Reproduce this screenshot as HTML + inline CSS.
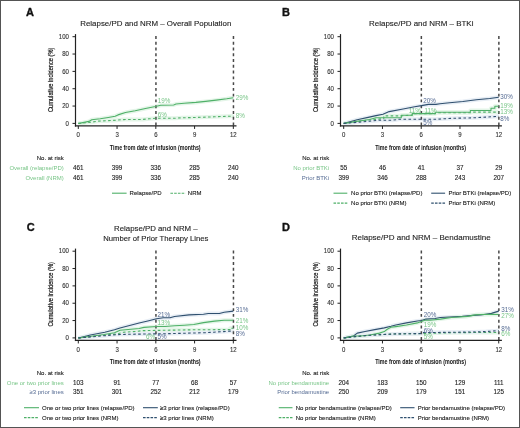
<!DOCTYPE html>
<html><head><meta charset="utf-8"><style>
html,body{margin:0;padding:0;background:#fff;}
svg{display:block;font-family:"Liberation Sans", sans-serif;will-change:transform;}
</style></head><body>
<svg width="520" height="428" viewBox="0 0 520 428">
<rect x="0" y="0" width="520" height="428" fill="#fff"/>
<text x="26.00" y="15.80" font-size="11" text-anchor="start" fill="#111" font-weight="bold" stroke="#111" stroke-width="0.35">A</text>
<text x="155.82" y="25.90" font-size="8" text-anchor="middle" fill="#1e1e1e" font-weight="normal" textLength="151.1" lengthAdjust="spacingAndGlyphs" stroke="#1e1e1e" stroke-width="0.12">Relapse/PD and NRM – Overall Population</text>
<polyline points="78.30,123.40 79.20,123.40 88.89,121.41 91.74,119.76 100.26,118.72 108.27,117.42 115.12,116.20 117.96,114.90 125.46,112.56 135.15,110.83 145.48,108.49 155.43,106.49 160.73,105.28 173.65,104.93 175.98,104.07 184.11,103.29 195.87,102.42 205.56,101.38 216.16,100.16 226.75,98.78 233.34,97.74" fill="none" stroke="#e4f5e8" stroke-width="4.0" stroke-linejoin="round"/>
<polyline points="78.30,123.40 79.20,123.40 88.89,122.36 91.22,122.19 97.03,121.23 108.27,120.63 116.41,120.19 123.52,119.59 142.90,119.41 149.36,118.80 155.82,118.28 175.20,118.28 181.66,117.76 194.58,117.50 213.96,116.81 233.34,116.12" fill="none" stroke="#e4f5e8" stroke-width="4.0" stroke-linejoin="round"/>
<line x1="155.94" y1="36.00" x2="155.94" y2="125.45" stroke="#484848" stroke-width="1.5" stroke-dasharray="2.9 2.87"/>
<line x1="233.46" y1="36.00" x2="233.46" y2="125.45" stroke="#484848" stroke-width="1.5" stroke-dasharray="2.9 2.87"/>
<polyline points="78.30,123.40 79.20,123.40 88.89,121.41 91.74,119.76 100.26,118.72 108.27,117.42 115.12,116.20 117.96,114.90 125.46,112.56 135.15,110.83 145.48,108.49 155.43,106.49 160.73,105.28 173.65,104.93 175.98,104.07 184.11,103.29 195.87,102.42 205.56,101.38 216.16,100.16 226.75,98.78 233.34,97.74" fill="none" stroke="#4fb068" stroke-width="1.1" stroke-linejoin="round"/>
<polyline points="78.30,123.40 79.20,123.40 88.89,122.36 91.22,122.19 97.03,121.23 108.27,120.63 116.41,120.19 123.52,119.59 142.90,119.41 149.36,118.80 155.82,118.28 175.20,118.28 181.66,117.76 194.58,117.50 213.96,116.81 233.34,116.12" fill="none" stroke="#4fb068" stroke-width="1.1" stroke-dasharray="2.6 2.4" stroke-linejoin="round"/>
<line x1="75.50" y1="34.10" x2="75.50" y2="126.55" stroke="#222" stroke-width="1.2"/>
<line x1="74.90" y1="125.95" x2="236.50" y2="125.95" stroke="#222" stroke-width="1.2"/>
<line x1="72.50" y1="123.40" x2="75.50" y2="123.40" stroke="#222" stroke-width="1"/>
<text x="68.90" y="125.55" font-size="6.5" text-anchor="end" fill="#333" font-weight="normal" textLength="3.36" lengthAdjust="spacingAndGlyphs" stroke="#333" stroke-width="0.12">0</text>
<line x1="72.50" y1="106.06" x2="75.50" y2="106.06" stroke="#222" stroke-width="1"/>
<text x="68.90" y="108.21" font-size="6.5" text-anchor="end" fill="#333" font-weight="normal" textLength="6.72" lengthAdjust="spacingAndGlyphs" stroke="#333" stroke-width="0.12">20</text>
<line x1="72.50" y1="88.72" x2="75.50" y2="88.72" stroke="#222" stroke-width="1"/>
<text x="68.90" y="90.87" font-size="6.5" text-anchor="end" fill="#333" font-weight="normal" textLength="6.72" lengthAdjust="spacingAndGlyphs" stroke="#333" stroke-width="0.12">40</text>
<line x1="72.50" y1="71.38" x2="75.50" y2="71.38" stroke="#222" stroke-width="1"/>
<text x="68.90" y="73.53" font-size="6.5" text-anchor="end" fill="#333" font-weight="normal" textLength="6.72" lengthAdjust="spacingAndGlyphs" stroke="#333" stroke-width="0.12">60</text>
<line x1="72.50" y1="54.04" x2="75.50" y2="54.04" stroke="#222" stroke-width="1"/>
<text x="68.90" y="56.19" font-size="6.5" text-anchor="end" fill="#333" font-weight="normal" textLength="6.72" lengthAdjust="spacingAndGlyphs" stroke="#333" stroke-width="0.12">80</text>
<line x1="72.50" y1="36.70" x2="75.50" y2="36.70" stroke="#222" stroke-width="1"/>
<text x="68.90" y="38.85" font-size="6.5" text-anchor="end" fill="#333" font-weight="normal" textLength="10.08" lengthAdjust="spacingAndGlyphs" stroke="#333" stroke-width="0.12">100</text>
<line x1="78.30" y1="125.95" x2="78.30" y2="128.95" stroke="#222" stroke-width="1"/>
<text x="78.30" y="137.10" font-size="6.5" text-anchor="middle" fill="#333" font-weight="normal" textLength="3.36" lengthAdjust="spacingAndGlyphs" stroke="#333" stroke-width="0.12">0</text>
<line x1="117.06" y1="125.95" x2="117.06" y2="128.95" stroke="#222" stroke-width="1"/>
<text x="117.06" y="137.10" font-size="6.5" text-anchor="middle" fill="#333" font-weight="normal" textLength="3.36" lengthAdjust="spacingAndGlyphs" stroke="#333" stroke-width="0.12">3</text>
<line x1="155.82" y1="125.95" x2="155.82" y2="128.95" stroke="#222" stroke-width="1"/>
<text x="155.82" y="137.10" font-size="6.5" text-anchor="middle" fill="#333" font-weight="normal" textLength="3.36" lengthAdjust="spacingAndGlyphs" stroke="#333" stroke-width="0.12">6</text>
<line x1="194.58" y1="125.95" x2="194.58" y2="128.95" stroke="#222" stroke-width="1"/>
<text x="194.58" y="137.10" font-size="6.5" text-anchor="middle" fill="#333" font-weight="normal" textLength="3.36" lengthAdjust="spacingAndGlyphs" stroke="#333" stroke-width="0.12">9</text>
<line x1="233.34" y1="125.95" x2="233.34" y2="128.95" stroke="#222" stroke-width="1"/>
<text x="233.34" y="137.10" font-size="6.5" text-anchor="middle" fill="#333" font-weight="normal" textLength="6.72" lengthAdjust="spacingAndGlyphs" stroke="#333" stroke-width="0.12">12</text>
<text x="155.22" y="149.50" font-size="7.6" text-anchor="middle" fill="#111" font-weight="bold" textLength="90.8" lengthAdjust="spacingAndGlyphs">Time from date of infusion (months)</text>
<text transform="translate(52.90,79.80) rotate(-90)" x="0" y="0" font-size="7.4" text-anchor="middle" fill="#1a1a1a" stroke="#1a1a1a" stroke-width="0.22" textLength="64.5" lengthAdjust="spacingAndGlyphs">Cumulative incidence (%)</text>
<text x="63.80" y="160.10" font-size="6" text-anchor="end" fill="#222" font-weight="normal" stroke="#222" stroke-width="0.12">No. at risk</text>
<text x="63.80" y="170.15" font-size="6" text-anchor="end" fill="#78c587" font-weight="normal">Overall (relapse/PD)</text>
<text x="78.30" y="170.15" font-size="6.5" text-anchor="middle" fill="#222" font-weight="normal" textLength="10.52" lengthAdjust="spacingAndGlyphs" stroke="#222" stroke-width="0.12">461</text>
<text x="117.06" y="170.15" font-size="6.5" text-anchor="middle" fill="#222" font-weight="normal" textLength="10.52" lengthAdjust="spacingAndGlyphs" stroke="#222" stroke-width="0.12">399</text>
<text x="155.82" y="170.15" font-size="6.5" text-anchor="middle" fill="#222" font-weight="normal" textLength="10.52" lengthAdjust="spacingAndGlyphs" stroke="#222" stroke-width="0.12">336</text>
<text x="194.58" y="170.15" font-size="6.5" text-anchor="middle" fill="#222" font-weight="normal" textLength="10.52" lengthAdjust="spacingAndGlyphs" stroke="#222" stroke-width="0.12">285</text>
<text x="233.34" y="170.15" font-size="6.5" text-anchor="middle" fill="#222" font-weight="normal" textLength="10.52" lengthAdjust="spacingAndGlyphs" stroke="#222" stroke-width="0.12">240</text>
<text x="63.80" y="179.85" font-size="6" text-anchor="end" fill="#78c587" font-weight="normal">Overall (NRM)</text>
<text x="78.30" y="179.85" font-size="6.5" text-anchor="middle" fill="#222" font-weight="normal" textLength="10.52" lengthAdjust="spacingAndGlyphs" stroke="#222" stroke-width="0.12">461</text>
<text x="117.06" y="179.85" font-size="6.5" text-anchor="middle" fill="#222" font-weight="normal" textLength="10.52" lengthAdjust="spacingAndGlyphs" stroke="#222" stroke-width="0.12">399</text>
<text x="155.82" y="179.85" font-size="6.5" text-anchor="middle" fill="#222" font-weight="normal" textLength="10.52" lengthAdjust="spacingAndGlyphs" stroke="#222" stroke-width="0.12">336</text>
<text x="194.58" y="179.85" font-size="6.5" text-anchor="middle" fill="#222" font-weight="normal" textLength="10.52" lengthAdjust="spacingAndGlyphs" stroke="#222" stroke-width="0.12">285</text>
<text x="233.34" y="179.85" font-size="6.5" text-anchor="middle" fill="#222" font-weight="normal" textLength="10.52" lengthAdjust="spacingAndGlyphs" stroke="#222" stroke-width="0.12">240</text>
<line x1="112.00" y1="193.20" x2="126.60" y2="193.20" stroke="#4fb068" stroke-width="1.1"/>
<text x="129.60" y="195.35" font-size="6" text-anchor="start" fill="#222" font-weight="normal" stroke="#222" stroke-width="0.12">Relapse/PD</text>
<line x1="170.40" y1="193.20" x2="185.50" y2="193.20" stroke="#4fb068" stroke-width="1.1" stroke-dasharray="2.6 1.15"/>
<text x="187.80" y="195.35" font-size="6" text-anchor="start" fill="#222" font-weight="normal" stroke="#222" stroke-width="0.12">NRM</text>
<text x="157.70" y="103.15" font-size="6.3" text-anchor="start" fill="#78c587" font-weight="normal">19%</text>
<text x="157.70" y="116.85" font-size="6.3" text-anchor="start" fill="#78c587" font-weight="normal">6%</text>
<text x="235.70" y="100.25" font-size="6.3" text-anchor="start" fill="#78c587" font-weight="normal">29%</text>
<text x="235.70" y="118.25" font-size="6.3" text-anchor="start" fill="#78c587" font-weight="normal">8%</text>
<text x="282.00" y="15.80" font-size="11" text-anchor="start" fill="#111" font-weight="bold" stroke="#111" stroke-width="0.35">B</text>
<text x="421.22" y="25.90" font-size="8" text-anchor="middle" fill="#1e1e1e" font-weight="normal" textLength="104.4" lengthAdjust="spacingAndGlyphs" stroke="#1e1e1e" stroke-width="0.12">Relapse/PD and NRM – BTKi</text>
<polyline points="343.70,123.40 344.35,123.40 357.14,119.76 369.28,117.16 376.00,115.60 382.98,114.21 389.18,111.61 403.13,109.01 414.63,106.67 421.48,105.63 428.46,104.41 435.95,104.41 439.95,103.81 449.51,102.77 462.82,101.46 476.39,99.82 489.70,98.43 498.74,97.22" fill="none" stroke="#e8eef5" stroke-width="4.0" stroke-linejoin="round"/>
<polyline points="343.70,123.40 344.35,123.40 356.62,121.41 369.54,119.50 376.00,117.68 401.32,117.68 401.32,115.25 412.18,115.25 412.18,113.60 435.43,113.60 435.43,112.22 470.32,112.22 470.32,110.57 490.99,110.57 490.99,108.23 494.86,108.23 494.86,106.23 498.74,106.23" fill="none" stroke="#e4f5e8" stroke-width="4.0" stroke-linejoin="round"/>
<polyline points="343.70,123.40 344.35,123.40 356.62,121.67 369.54,119.93 383.75,118.63 383.75,115.86 400.55,115.86 412.18,115.16 412.18,113.60 435.43,113.60 435.43,112.82 470.32,112.82 472.90,112.13 498.74,112.13" fill="none" stroke="#e4f5e8" stroke-width="4.0" stroke-linejoin="round"/>
<polyline points="343.70,123.40 344.35,123.40 356.62,122.36 369.54,121.23 379.88,120.19 392.80,120.19 399.26,119.24 435.43,119.24 453.52,118.28 472.90,117.85 485.82,117.16 498.74,116.29" fill="none" stroke="#e8eef5" stroke-width="4.0" stroke-linejoin="round"/>
<line x1="421.34" y1="36.00" x2="421.34" y2="125.45" stroke="#484848" stroke-width="1.5" stroke-dasharray="2.9 2.87"/>
<line x1="498.86" y1="36.00" x2="498.86" y2="125.45" stroke="#484848" stroke-width="1.5" stroke-dasharray="2.9 2.87"/>
<polyline points="343.70,123.40 344.35,123.40 357.14,119.76 369.28,117.16 376.00,115.60 382.98,114.21 389.18,111.61 403.13,109.01 414.63,106.67 421.48,105.63 428.46,104.41 435.95,104.41 439.95,103.81 449.51,102.77 462.82,101.46 476.39,99.82 489.70,98.43 498.74,97.22" fill="none" stroke="#30506f" stroke-width="1.1" stroke-linejoin="round"/>
<polyline points="343.70,123.40 344.35,123.40 356.62,121.41 369.54,119.50 376.00,117.68 401.32,117.68 401.32,115.25 412.18,115.25 412.18,113.60 435.43,113.60 435.43,112.22 470.32,112.22 470.32,110.57 490.99,110.57 490.99,108.23 494.86,108.23 494.86,106.23 498.74,106.23" fill="none" stroke="#4fb068" stroke-width="1.1" stroke-linejoin="round"/>
<polyline points="343.70,123.40 344.35,123.40 356.62,121.67 369.54,119.93 383.75,118.63 383.75,115.86 400.55,115.86 412.18,115.16 412.18,113.60 435.43,113.60 435.43,112.82 470.32,112.82 472.90,112.13 498.74,112.13" fill="none" stroke="#4fb068" stroke-width="1.1" stroke-dasharray="2.6 2.4" stroke-linejoin="round"/>
<polyline points="343.70,123.40 344.35,123.40 356.62,122.36 369.54,121.23 379.88,120.19 392.80,120.19 399.26,119.24 435.43,119.24 453.52,118.28 472.90,117.85 485.82,117.16 498.74,116.29" fill="none" stroke="#30506f" stroke-width="1.1" stroke-dasharray="2.6 2.4" stroke-linejoin="round"/>
<line x1="340.50" y1="34.10" x2="340.50" y2="126.55" stroke="#222" stroke-width="1.2"/>
<line x1="339.90" y1="125.95" x2="501.90" y2="125.95" stroke="#222" stroke-width="1.2"/>
<line x1="337.50" y1="123.40" x2="340.50" y2="123.40" stroke="#222" stroke-width="1"/>
<text x="333.90" y="125.55" font-size="6.5" text-anchor="end" fill="#333" font-weight="normal" textLength="3.36" lengthAdjust="spacingAndGlyphs" stroke="#333" stroke-width="0.12">0</text>
<line x1="337.50" y1="106.06" x2="340.50" y2="106.06" stroke="#222" stroke-width="1"/>
<text x="333.90" y="108.21" font-size="6.5" text-anchor="end" fill="#333" font-weight="normal" textLength="6.72" lengthAdjust="spacingAndGlyphs" stroke="#333" stroke-width="0.12">20</text>
<line x1="337.50" y1="88.72" x2="340.50" y2="88.72" stroke="#222" stroke-width="1"/>
<text x="333.90" y="90.87" font-size="6.5" text-anchor="end" fill="#333" font-weight="normal" textLength="6.72" lengthAdjust="spacingAndGlyphs" stroke="#333" stroke-width="0.12">40</text>
<line x1="337.50" y1="71.38" x2="340.50" y2="71.38" stroke="#222" stroke-width="1"/>
<text x="333.90" y="73.53" font-size="6.5" text-anchor="end" fill="#333" font-weight="normal" textLength="6.72" lengthAdjust="spacingAndGlyphs" stroke="#333" stroke-width="0.12">60</text>
<line x1="337.50" y1="54.04" x2="340.50" y2="54.04" stroke="#222" stroke-width="1"/>
<text x="333.90" y="56.19" font-size="6.5" text-anchor="end" fill="#333" font-weight="normal" textLength="6.72" lengthAdjust="spacingAndGlyphs" stroke="#333" stroke-width="0.12">80</text>
<line x1="337.50" y1="36.70" x2="340.50" y2="36.70" stroke="#222" stroke-width="1"/>
<text x="333.90" y="38.85" font-size="6.5" text-anchor="end" fill="#333" font-weight="normal" textLength="10.08" lengthAdjust="spacingAndGlyphs" stroke="#333" stroke-width="0.12">100</text>
<line x1="343.70" y1="125.95" x2="343.70" y2="128.95" stroke="#222" stroke-width="1"/>
<text x="343.70" y="137.10" font-size="6.5" text-anchor="middle" fill="#333" font-weight="normal" textLength="3.36" lengthAdjust="spacingAndGlyphs" stroke="#333" stroke-width="0.12">0</text>
<line x1="382.46" y1="125.95" x2="382.46" y2="128.95" stroke="#222" stroke-width="1"/>
<text x="382.46" y="137.10" font-size="6.5" text-anchor="middle" fill="#333" font-weight="normal" textLength="3.36" lengthAdjust="spacingAndGlyphs" stroke="#333" stroke-width="0.12">3</text>
<line x1="421.22" y1="125.95" x2="421.22" y2="128.95" stroke="#222" stroke-width="1"/>
<text x="421.22" y="137.10" font-size="6.5" text-anchor="middle" fill="#333" font-weight="normal" textLength="3.36" lengthAdjust="spacingAndGlyphs" stroke="#333" stroke-width="0.12">6</text>
<line x1="459.98" y1="125.95" x2="459.98" y2="128.95" stroke="#222" stroke-width="1"/>
<text x="459.98" y="137.10" font-size="6.5" text-anchor="middle" fill="#333" font-weight="normal" textLength="3.36" lengthAdjust="spacingAndGlyphs" stroke="#333" stroke-width="0.12">9</text>
<line x1="498.74" y1="125.95" x2="498.74" y2="128.95" stroke="#222" stroke-width="1"/>
<text x="498.74" y="137.10" font-size="6.5" text-anchor="middle" fill="#333" font-weight="normal" textLength="6.72" lengthAdjust="spacingAndGlyphs" stroke="#333" stroke-width="0.12">12</text>
<text x="420.62" y="149.50" font-size="7.6" text-anchor="middle" fill="#111" font-weight="bold" textLength="90.8" lengthAdjust="spacingAndGlyphs">Time from date of infusion (months)</text>
<text transform="translate(318.30,79.80) rotate(-90)" x="0" y="0" font-size="7.4" text-anchor="middle" fill="#1a1a1a" stroke="#1a1a1a" stroke-width="0.22" textLength="64.5" lengthAdjust="spacingAndGlyphs">Cumulative incidence (%)</text>
<text x="329.20" y="160.10" font-size="6" text-anchor="end" fill="#222" font-weight="normal" stroke="#222" stroke-width="0.12">No. at risk</text>
<text x="329.20" y="170.15" font-size="6" text-anchor="end" fill="#78c587" font-weight="normal">No prior BTKi</text>
<text x="343.70" y="170.15" font-size="6.5" text-anchor="middle" fill="#222" font-weight="normal" textLength="7.01" lengthAdjust="spacingAndGlyphs" stroke="#222" stroke-width="0.12">55</text>
<text x="382.46" y="170.15" font-size="6.5" text-anchor="middle" fill="#222" font-weight="normal" textLength="7.01" lengthAdjust="spacingAndGlyphs" stroke="#222" stroke-width="0.12">46</text>
<text x="421.22" y="170.15" font-size="6.5" text-anchor="middle" fill="#222" font-weight="normal" textLength="7.01" lengthAdjust="spacingAndGlyphs" stroke="#222" stroke-width="0.12">41</text>
<text x="459.98" y="170.15" font-size="6.5" text-anchor="middle" fill="#222" font-weight="normal" textLength="7.01" lengthAdjust="spacingAndGlyphs" stroke="#222" stroke-width="0.12">37</text>
<text x="498.74" y="170.15" font-size="6.5" text-anchor="middle" fill="#222" font-weight="normal" textLength="7.01" lengthAdjust="spacingAndGlyphs" stroke="#222" stroke-width="0.12">29</text>
<text x="329.20" y="179.85" font-size="6" text-anchor="end" fill="#566c94" font-weight="normal">Prior BTKi</text>
<text x="343.70" y="179.85" font-size="6.5" text-anchor="middle" fill="#222" font-weight="normal" textLength="10.52" lengthAdjust="spacingAndGlyphs" stroke="#222" stroke-width="0.12">399</text>
<text x="382.46" y="179.85" font-size="6.5" text-anchor="middle" fill="#222" font-weight="normal" textLength="10.52" lengthAdjust="spacingAndGlyphs" stroke="#222" stroke-width="0.12">346</text>
<text x="421.22" y="179.85" font-size="6.5" text-anchor="middle" fill="#222" font-weight="normal" textLength="10.52" lengthAdjust="spacingAndGlyphs" stroke="#222" stroke-width="0.12">288</text>
<text x="459.98" y="179.85" font-size="6.5" text-anchor="middle" fill="#222" font-weight="normal" textLength="10.52" lengthAdjust="spacingAndGlyphs" stroke="#222" stroke-width="0.12">243</text>
<text x="498.74" y="179.85" font-size="6.5" text-anchor="middle" fill="#222" font-weight="normal" textLength="10.52" lengthAdjust="spacingAndGlyphs" stroke="#222" stroke-width="0.12">207</text>
<line x1="333.50" y1="193.20" x2="347.30" y2="193.20" stroke="#4fb068" stroke-width="1.1"/>
<text x="351.10" y="195.35" font-size="6" text-anchor="start" fill="#222" font-weight="normal" stroke="#222" stroke-width="0.12">No prior BTKi (relapse/PD)</text>
<line x1="333.50" y1="203.10" x2="347.30" y2="203.10" stroke="#4fb068" stroke-width="1.1" stroke-dasharray="2.6 1.15"/>
<text x="351.10" y="205.25" font-size="6" text-anchor="start" fill="#222" font-weight="normal" stroke="#222" stroke-width="0.12">No prior BTKi (NRM)</text>
<line x1="431.20" y1="193.20" x2="445.10" y2="193.20" stroke="#30506f" stroke-width="1.1"/>
<text x="448.50" y="195.35" font-size="6" text-anchor="start" fill="#222" font-weight="normal" stroke="#222" stroke-width="0.12">Prior BTKi (relapse/PD)</text>
<line x1="431.20" y1="203.10" x2="445.10" y2="203.10" stroke="#30506f" stroke-width="1.1" stroke-dasharray="2.6 1.15"/>
<text x="448.50" y="205.25" font-size="6" text-anchor="start" fill="#222" font-weight="normal" stroke="#222" stroke-width="0.12">Prior BTKi (NRM)</text>
<text x="423.30" y="103.25" font-size="6.3" text-anchor="start" fill="#566c94" font-weight="normal">20%</text>
<text x="408.80" y="113.05" font-size="6.3" text-anchor="start" fill="#78c587" font-weight="normal">11%</text>
<text x="424.40" y="113.05" font-size="6.3" text-anchor="start" fill="#78c587" font-weight="normal">11%</text>
<text x="423.30" y="124.75" font-size="6.3" text-anchor="start" fill="#566c94" font-weight="normal">5%</text>
<text x="500.20" y="99.45" font-size="6.3" text-anchor="start" fill="#566c94" font-weight="normal">30%</text>
<text x="500.20" y="107.75" font-size="6.3" text-anchor="start" fill="#78c587" font-weight="normal">19%</text>
<text x="500.20" y="114.25" font-size="6.3" text-anchor="start" fill="#78c587" font-weight="normal">13%</text>
<text x="500.20" y="120.95" font-size="6.3" text-anchor="start" fill="#566c94" font-weight="normal">8%</text>
<text x="26.70" y="230.80" font-size="11" text-anchor="start" fill="#111" font-weight="bold" stroke="#111" stroke-width="0.35">C</text>
<text x="155.82" y="231.40" font-size="8" text-anchor="middle" fill="#1e1e1e" font-weight="normal" textLength="83.6" lengthAdjust="spacingAndGlyphs" stroke="#1e1e1e" stroke-width="0.12">Relapse/PD and NRM –</text>
<text x="155.82" y="241.10" font-size="8" text-anchor="middle" fill="#1e1e1e" font-weight="normal" textLength="105.1" lengthAdjust="spacingAndGlyphs" stroke="#1e1e1e" stroke-width="0.12">Number of Prior Therapy Lines</text>
<polyline points="78.30,337.90 79.33,337.90 90.44,335.04 104.79,332.18 114.48,329.84 120.03,327.93 129.59,325.50 139.15,323.07 148.84,320.73 156.47,318.74 163.31,317.79 170.03,317.79 174.55,316.49 189.02,314.92 203.49,314.23 208.28,313.54 219.39,313.54 224.17,312.32 233.34,311.11" fill="none" stroke="#e8eef5" stroke-width="4.0" stroke-linejoin="round"/>
<polyline points="78.30,337.90 79.33,337.90 91.22,336.17 104.14,334.43 114.48,332.70 120.03,330.27 139.15,328.45 143.93,327.41 156.47,326.46 164.99,326.46 174.55,325.76 184.24,325.24 193.80,324.55 203.49,322.64 214.61,321.17 224.17,320.21 233.34,320.21" fill="none" stroke="#e4f5e8" stroke-width="4.0" stroke-linejoin="round"/>
<polyline points="78.30,337.90 79.33,337.90 91.22,336.51 104.14,335.13 117.06,334.00 123.52,332.26 136.44,331.40 142.90,330.62 164.99,330.27 188.12,329.84 230.11,329.58 230.11,328.19 233.34,328.19" fill="none" stroke="#e4f5e8" stroke-width="4.0" stroke-linejoin="round"/>
<polyline points="78.30,337.90 79.33,337.90 91.22,336.86 104.14,335.73 117.06,334.61 129.98,334.26 164.99,333.74 204.92,332.70 213.96,332.18 233.34,330.96" fill="none" stroke="#e8eef5" stroke-width="4.0" stroke-linejoin="round"/>
<line x1="155.94" y1="250.50" x2="155.94" y2="339.95" stroke="#484848" stroke-width="1.5" stroke-dasharray="2.9 2.87"/>
<line x1="233.46" y1="250.50" x2="233.46" y2="339.95" stroke="#484848" stroke-width="1.5" stroke-dasharray="2.9 2.87"/>
<polyline points="78.30,337.90 79.33,337.90 90.44,335.04 104.79,332.18 114.48,329.84 120.03,327.93 129.59,325.50 139.15,323.07 148.84,320.73 156.47,318.74 163.31,317.79 170.03,317.79 174.55,316.49 189.02,314.92 203.49,314.23 208.28,313.54 219.39,313.54 224.17,312.32 233.34,311.11" fill="none" stroke="#30506f" stroke-width="1.1" stroke-linejoin="round"/>
<polyline points="78.30,337.90 79.33,337.90 91.22,336.17 104.14,334.43 114.48,332.70 120.03,330.27 139.15,328.45 143.93,327.41 156.47,326.46 164.99,326.46 174.55,325.76 184.24,325.24 193.80,324.55 203.49,322.64 214.61,321.17 224.17,320.21 233.34,320.21" fill="none" stroke="#4fb068" stroke-width="1.1" stroke-linejoin="round"/>
<polyline points="78.30,337.90 79.33,337.90 91.22,336.51 104.14,335.13 117.06,334.00 123.52,332.26 136.44,331.40 142.90,330.62 164.99,330.27 188.12,329.84 230.11,329.58 230.11,328.19 233.34,328.19" fill="none" stroke="#4fb068" stroke-width="1.1" stroke-dasharray="2.6 2.4" stroke-linejoin="round"/>
<polyline points="78.30,337.90 79.33,337.90 91.22,336.86 104.14,335.73 117.06,334.61 129.98,334.26 164.99,333.74 204.92,332.70 213.96,332.18 233.34,330.96" fill="none" stroke="#30506f" stroke-width="1.1" stroke-dasharray="2.6 2.4" stroke-linejoin="round"/>
<line x1="75.50" y1="248.60" x2="75.50" y2="341.05" stroke="#222" stroke-width="1.2"/>
<line x1="74.90" y1="340.45" x2="236.50" y2="340.45" stroke="#222" stroke-width="1.2"/>
<line x1="72.50" y1="337.90" x2="75.50" y2="337.90" stroke="#222" stroke-width="1"/>
<text x="68.90" y="340.05" font-size="6.5" text-anchor="end" fill="#333" font-weight="normal" textLength="3.36" lengthAdjust="spacingAndGlyphs" stroke="#333" stroke-width="0.12">0</text>
<line x1="72.50" y1="320.56" x2="75.50" y2="320.56" stroke="#222" stroke-width="1"/>
<text x="68.90" y="322.71" font-size="6.5" text-anchor="end" fill="#333" font-weight="normal" textLength="6.72" lengthAdjust="spacingAndGlyphs" stroke="#333" stroke-width="0.12">20</text>
<line x1="72.50" y1="303.22" x2="75.50" y2="303.22" stroke="#222" stroke-width="1"/>
<text x="68.90" y="305.37" font-size="6.5" text-anchor="end" fill="#333" font-weight="normal" textLength="6.72" lengthAdjust="spacingAndGlyphs" stroke="#333" stroke-width="0.12">40</text>
<line x1="72.50" y1="285.88" x2="75.50" y2="285.88" stroke="#222" stroke-width="1"/>
<text x="68.90" y="288.03" font-size="6.5" text-anchor="end" fill="#333" font-weight="normal" textLength="6.72" lengthAdjust="spacingAndGlyphs" stroke="#333" stroke-width="0.12">60</text>
<line x1="72.50" y1="268.54" x2="75.50" y2="268.54" stroke="#222" stroke-width="1"/>
<text x="68.90" y="270.69" font-size="6.5" text-anchor="end" fill="#333" font-weight="normal" textLength="6.72" lengthAdjust="spacingAndGlyphs" stroke="#333" stroke-width="0.12">80</text>
<line x1="72.50" y1="251.20" x2="75.50" y2="251.20" stroke="#222" stroke-width="1"/>
<text x="68.90" y="253.35" font-size="6.5" text-anchor="end" fill="#333" font-weight="normal" textLength="10.08" lengthAdjust="spacingAndGlyphs" stroke="#333" stroke-width="0.12">100</text>
<line x1="78.30" y1="340.45" x2="78.30" y2="343.45" stroke="#222" stroke-width="1"/>
<text x="78.30" y="351.60" font-size="6.5" text-anchor="middle" fill="#333" font-weight="normal" textLength="3.36" lengthAdjust="spacingAndGlyphs" stroke="#333" stroke-width="0.12">0</text>
<line x1="117.06" y1="340.45" x2="117.06" y2="343.45" stroke="#222" stroke-width="1"/>
<text x="117.06" y="351.60" font-size="6.5" text-anchor="middle" fill="#333" font-weight="normal" textLength="3.36" lengthAdjust="spacingAndGlyphs" stroke="#333" stroke-width="0.12">3</text>
<line x1="155.82" y1="340.45" x2="155.82" y2="343.45" stroke="#222" stroke-width="1"/>
<text x="155.82" y="351.60" font-size="6.5" text-anchor="middle" fill="#333" font-weight="normal" textLength="3.36" lengthAdjust="spacingAndGlyphs" stroke="#333" stroke-width="0.12">6</text>
<line x1="194.58" y1="340.45" x2="194.58" y2="343.45" stroke="#222" stroke-width="1"/>
<text x="194.58" y="351.60" font-size="6.5" text-anchor="middle" fill="#333" font-weight="normal" textLength="3.36" lengthAdjust="spacingAndGlyphs" stroke="#333" stroke-width="0.12">9</text>
<line x1="233.34" y1="340.45" x2="233.34" y2="343.45" stroke="#222" stroke-width="1"/>
<text x="233.34" y="351.60" font-size="6.5" text-anchor="middle" fill="#333" font-weight="normal" textLength="6.72" lengthAdjust="spacingAndGlyphs" stroke="#333" stroke-width="0.12">12</text>
<text x="155.22" y="364.00" font-size="7.6" text-anchor="middle" fill="#111" font-weight="bold" textLength="90.8" lengthAdjust="spacingAndGlyphs">Time from date of infusion (months)</text>
<text transform="translate(52.90,294.30) rotate(-90)" x="0" y="0" font-size="7.4" text-anchor="middle" fill="#1a1a1a" stroke="#1a1a1a" stroke-width="0.22" textLength="64.5" lengthAdjust="spacingAndGlyphs">Cumulative incidence (%)</text>
<text x="63.80" y="374.60" font-size="6" text-anchor="end" fill="#222" font-weight="normal" stroke="#222" stroke-width="0.12">No. at risk</text>
<text x="63.80" y="384.65" font-size="6" text-anchor="end" fill="#78c587" font-weight="normal">One or two prior lines</text>
<text x="78.30" y="384.65" font-size="6.5" text-anchor="middle" fill="#222" font-weight="normal" textLength="10.52" lengthAdjust="spacingAndGlyphs" stroke="#222" stroke-width="0.12">103</text>
<text x="117.06" y="384.65" font-size="6.5" text-anchor="middle" fill="#222" font-weight="normal" textLength="7.01" lengthAdjust="spacingAndGlyphs" stroke="#222" stroke-width="0.12">91</text>
<text x="155.82" y="384.65" font-size="6.5" text-anchor="middle" fill="#222" font-weight="normal" textLength="7.01" lengthAdjust="spacingAndGlyphs" stroke="#222" stroke-width="0.12">77</text>
<text x="194.58" y="384.65" font-size="6.5" text-anchor="middle" fill="#222" font-weight="normal" textLength="7.01" lengthAdjust="spacingAndGlyphs" stroke="#222" stroke-width="0.12">68</text>
<text x="233.34" y="384.65" font-size="6.5" text-anchor="middle" fill="#222" font-weight="normal" textLength="7.01" lengthAdjust="spacingAndGlyphs" stroke="#222" stroke-width="0.12">57</text>
<text x="63.80" y="394.35" font-size="6" text-anchor="end" fill="#566c94" font-weight="normal">≥3 prior lines</text>
<text x="78.30" y="394.35" font-size="6.5" text-anchor="middle" fill="#222" font-weight="normal" textLength="10.52" lengthAdjust="spacingAndGlyphs" stroke="#222" stroke-width="0.12">351</text>
<text x="117.06" y="394.35" font-size="6.5" text-anchor="middle" fill="#222" font-weight="normal" textLength="10.52" lengthAdjust="spacingAndGlyphs" stroke="#222" stroke-width="0.12">301</text>
<text x="155.82" y="394.35" font-size="6.5" text-anchor="middle" fill="#222" font-weight="normal" textLength="10.52" lengthAdjust="spacingAndGlyphs" stroke="#222" stroke-width="0.12">252</text>
<text x="194.58" y="394.35" font-size="6.5" text-anchor="middle" fill="#222" font-weight="normal" textLength="10.52" lengthAdjust="spacingAndGlyphs" stroke="#222" stroke-width="0.12">212</text>
<text x="233.34" y="394.35" font-size="6.5" text-anchor="middle" fill="#222" font-weight="normal" textLength="10.52" lengthAdjust="spacingAndGlyphs" stroke="#222" stroke-width="0.12">179</text>
<line x1="24.00" y1="407.70" x2="39.00" y2="407.70" stroke="#4fb068" stroke-width="1.1"/>
<text x="42.10" y="409.85" font-size="6" text-anchor="start" fill="#222" font-weight="normal" stroke="#222" stroke-width="0.12">One or two prior lines (relapse/PD)</text>
<line x1="24.00" y1="417.60" x2="39.00" y2="417.60" stroke="#4fb068" stroke-width="1.1" stroke-dasharray="2.6 1.15"/>
<text x="42.10" y="419.75" font-size="6" text-anchor="start" fill="#222" font-weight="normal" stroke="#222" stroke-width="0.12">One or two prior lines (NRM)</text>
<line x1="143.00" y1="407.70" x2="157.80" y2="407.70" stroke="#30506f" stroke-width="1.1"/>
<text x="160.00" y="409.85" font-size="6" text-anchor="start" fill="#222" font-weight="normal" stroke="#222" stroke-width="0.12">≥3 prior lines (relapse/PD)</text>
<line x1="143.00" y1="417.60" x2="157.80" y2="417.60" stroke="#30506f" stroke-width="1.1" stroke-dasharray="2.6 1.15"/>
<text x="160.00" y="419.75" font-size="6" text-anchor="start" fill="#222" font-weight="normal" stroke="#222" stroke-width="0.12">≥3 prior lines (NRM)</text>
<text x="157.50" y="317.15" font-size="6.3" text-anchor="start" fill="#566c94" font-weight="normal">21%</text>
<text x="157.50" y="325.35" font-size="6.3" text-anchor="start" fill="#78c587" font-weight="normal">13%</text>
<text x="146.00" y="339.45" font-size="6.3" text-anchor="start" fill="#78c587" font-weight="normal">6%</text>
<text x="157.50" y="339.45" font-size="6.3" text-anchor="start" fill="#566c94" font-weight="normal">5%</text>
<text x="235.80" y="312.35" font-size="6.3" text-anchor="start" fill="#566c94" font-weight="normal">31%</text>
<text x="235.80" y="322.95" font-size="6.3" text-anchor="start" fill="#78c587" font-weight="normal">21%</text>
<text x="235.80" y="330.15" font-size="6.3" text-anchor="start" fill="#78c587" font-weight="normal">10%</text>
<text x="235.80" y="335.95" font-size="6.3" text-anchor="start" fill="#566c94" font-weight="normal">8%</text>
<text x="282.10" y="230.80" font-size="11" text-anchor="start" fill="#111" font-weight="bold" stroke="#111" stroke-width="0.35">D</text>
<text x="421.22" y="240.40" font-size="8" text-anchor="middle" fill="#1e1e1e" font-weight="normal" textLength="139.1" lengthAdjust="spacingAndGlyphs" stroke="#1e1e1e" stroke-width="0.12">Relapse/PD and NRM – Bendamustine</text>
<polyline points="343.70,337.90 344.35,337.90 353.52,335.99 357.27,333.13 365.02,331.57 374.71,329.66 384.27,327.84 390.99,326.28 395.77,324.98 406.49,322.90 417.34,320.99 421.61,320.47 425.87,319.09 435.04,318.57 440.34,317.53 462.31,316.40 473.03,315.36 480.78,314.92 491.50,313.36 498.74,311.11" fill="none" stroke="#e8eef5" stroke-width="4.0" stroke-linejoin="round"/>
<polyline points="343.70,337.90 344.35,337.90 353.52,335.99 360.24,335.99 369.80,335.04 379.49,333.13 384.27,331.57 387.24,329.23 390.99,327.32 395.77,326.63 406.49,324.98 417.34,322.90 420.57,321.77 424.84,320.21 430.01,320.21 440.34,319.09 451.45,317.53 467.47,316.40 475.23,314.84 480.14,314.49 491.50,314.32 498.74,314.49" fill="none" stroke="#e4f5e8" stroke-width="4.0" stroke-linejoin="round"/>
<polyline points="343.70,337.90 344.35,337.90 356.62,336.60 369.54,335.30 382.46,334.52 395.38,334.00 421.22,333.56 447.06,332.87 472.90,332.52 498.74,332.52" fill="none" stroke="#e4f5e8" stroke-width="4.0" stroke-linejoin="round"/>
<polyline points="343.70,337.90 344.35,337.90 356.62,336.34 369.54,335.30 382.46,334.52 395.38,333.91 421.22,333.56 421.87,332.61 447.06,332.35 472.90,332.00 485.82,331.57 498.74,330.62" fill="none" stroke="#e8eef5" stroke-width="4.0" stroke-linejoin="round"/>
<line x1="421.34" y1="250.50" x2="421.34" y2="339.95" stroke="#484848" stroke-width="1.5" stroke-dasharray="2.9 2.87"/>
<line x1="498.86" y1="250.50" x2="498.86" y2="339.95" stroke="#484848" stroke-width="1.5" stroke-dasharray="2.9 2.87"/>
<polyline points="343.70,337.90 344.35,337.90 353.52,335.99 357.27,333.13 365.02,331.57 374.71,329.66 384.27,327.84 390.99,326.28 395.77,324.98 406.49,322.90 417.34,320.99 421.61,320.47 425.87,319.09 435.04,318.57 440.34,317.53 462.31,316.40 473.03,315.36 480.78,314.92 491.50,313.36 498.74,311.11" fill="none" stroke="#30506f" stroke-width="1.1" stroke-linejoin="round"/>
<polyline points="343.70,337.90 344.35,337.90 353.52,335.99 360.24,335.99 369.80,335.04 379.49,333.13 384.27,331.57 387.24,329.23 390.99,327.32 395.77,326.63 406.49,324.98 417.34,322.90 420.57,321.77 424.84,320.21 430.01,320.21 440.34,319.09 451.45,317.53 467.47,316.40 475.23,314.84 480.14,314.49 491.50,314.32 498.74,314.49" fill="none" stroke="#4fb068" stroke-width="1.1" stroke-linejoin="round"/>
<polyline points="343.70,337.90 344.35,337.90 356.62,336.60 369.54,335.30 382.46,334.52 395.38,334.00 421.22,333.56 447.06,332.87 472.90,332.52 498.74,332.52" fill="none" stroke="#4fb068" stroke-width="1.1" stroke-dasharray="2.6 2.4" stroke-linejoin="round"/>
<polyline points="343.70,337.90 344.35,337.90 356.62,336.34 369.54,335.30 382.46,334.52 395.38,333.91 421.22,333.56 421.87,332.61 447.06,332.35 472.90,332.00 485.82,331.57 498.74,330.62" fill="none" stroke="#30506f" stroke-width="1.1" stroke-dasharray="2.6 2.4" stroke-linejoin="round"/>
<line x1="340.50" y1="248.60" x2="340.50" y2="341.05" stroke="#222" stroke-width="1.2"/>
<line x1="339.90" y1="340.45" x2="501.90" y2="340.45" stroke="#222" stroke-width="1.2"/>
<line x1="337.50" y1="337.90" x2="340.50" y2="337.90" stroke="#222" stroke-width="1"/>
<text x="333.90" y="340.05" font-size="6.5" text-anchor="end" fill="#333" font-weight="normal" textLength="3.36" lengthAdjust="spacingAndGlyphs" stroke="#333" stroke-width="0.12">0</text>
<line x1="337.50" y1="320.56" x2="340.50" y2="320.56" stroke="#222" stroke-width="1"/>
<text x="333.90" y="322.71" font-size="6.5" text-anchor="end" fill="#333" font-weight="normal" textLength="6.72" lengthAdjust="spacingAndGlyphs" stroke="#333" stroke-width="0.12">20</text>
<line x1="337.50" y1="303.22" x2="340.50" y2="303.22" stroke="#222" stroke-width="1"/>
<text x="333.90" y="305.37" font-size="6.5" text-anchor="end" fill="#333" font-weight="normal" textLength="6.72" lengthAdjust="spacingAndGlyphs" stroke="#333" stroke-width="0.12">40</text>
<line x1="337.50" y1="285.88" x2="340.50" y2="285.88" stroke="#222" stroke-width="1"/>
<text x="333.90" y="288.03" font-size="6.5" text-anchor="end" fill="#333" font-weight="normal" textLength="6.72" lengthAdjust="spacingAndGlyphs" stroke="#333" stroke-width="0.12">60</text>
<line x1="337.50" y1="268.54" x2="340.50" y2="268.54" stroke="#222" stroke-width="1"/>
<text x="333.90" y="270.69" font-size="6.5" text-anchor="end" fill="#333" font-weight="normal" textLength="6.72" lengthAdjust="spacingAndGlyphs" stroke="#333" stroke-width="0.12">80</text>
<line x1="337.50" y1="251.20" x2="340.50" y2="251.20" stroke="#222" stroke-width="1"/>
<text x="333.90" y="253.35" font-size="6.5" text-anchor="end" fill="#333" font-weight="normal" textLength="10.08" lengthAdjust="spacingAndGlyphs" stroke="#333" stroke-width="0.12">100</text>
<line x1="343.70" y1="340.45" x2="343.70" y2="343.45" stroke="#222" stroke-width="1"/>
<text x="343.70" y="351.60" font-size="6.5" text-anchor="middle" fill="#333" font-weight="normal" textLength="3.36" lengthAdjust="spacingAndGlyphs" stroke="#333" stroke-width="0.12">0</text>
<line x1="382.46" y1="340.45" x2="382.46" y2="343.45" stroke="#222" stroke-width="1"/>
<text x="382.46" y="351.60" font-size="6.5" text-anchor="middle" fill="#333" font-weight="normal" textLength="3.36" lengthAdjust="spacingAndGlyphs" stroke="#333" stroke-width="0.12">3</text>
<line x1="421.22" y1="340.45" x2="421.22" y2="343.45" stroke="#222" stroke-width="1"/>
<text x="421.22" y="351.60" font-size="6.5" text-anchor="middle" fill="#333" font-weight="normal" textLength="3.36" lengthAdjust="spacingAndGlyphs" stroke="#333" stroke-width="0.12">6</text>
<line x1="459.98" y1="340.45" x2="459.98" y2="343.45" stroke="#222" stroke-width="1"/>
<text x="459.98" y="351.60" font-size="6.5" text-anchor="middle" fill="#333" font-weight="normal" textLength="3.36" lengthAdjust="spacingAndGlyphs" stroke="#333" stroke-width="0.12">9</text>
<line x1="498.74" y1="340.45" x2="498.74" y2="343.45" stroke="#222" stroke-width="1"/>
<text x="498.74" y="351.60" font-size="6.5" text-anchor="middle" fill="#333" font-weight="normal" textLength="6.72" lengthAdjust="spacingAndGlyphs" stroke="#333" stroke-width="0.12">12</text>
<text x="420.62" y="364.00" font-size="7.6" text-anchor="middle" fill="#111" font-weight="bold" textLength="90.8" lengthAdjust="spacingAndGlyphs">Time from date of infusion (months)</text>
<text transform="translate(318.30,294.30) rotate(-90)" x="0" y="0" font-size="7.4" text-anchor="middle" fill="#1a1a1a" stroke="#1a1a1a" stroke-width="0.22" textLength="64.5" lengthAdjust="spacingAndGlyphs">Cumulative incidence (%)</text>
<text x="329.20" y="374.60" font-size="6" text-anchor="end" fill="#222" font-weight="normal" stroke="#222" stroke-width="0.12">No. at risk</text>
<text x="329.20" y="384.65" font-size="6" text-anchor="end" fill="#78c587" font-weight="normal">No prior bendamustine</text>
<text x="343.70" y="384.65" font-size="6.5" text-anchor="middle" fill="#222" font-weight="normal" textLength="10.52" lengthAdjust="spacingAndGlyphs" stroke="#222" stroke-width="0.12">204</text>
<text x="382.46" y="384.65" font-size="6.5" text-anchor="middle" fill="#222" font-weight="normal" textLength="10.52" lengthAdjust="spacingAndGlyphs" stroke="#222" stroke-width="0.12">183</text>
<text x="421.22" y="384.65" font-size="6.5" text-anchor="middle" fill="#222" font-weight="normal" textLength="10.52" lengthAdjust="spacingAndGlyphs" stroke="#222" stroke-width="0.12">150</text>
<text x="459.98" y="384.65" font-size="6.5" text-anchor="middle" fill="#222" font-weight="normal" textLength="10.52" lengthAdjust="spacingAndGlyphs" stroke="#222" stroke-width="0.12">129</text>
<text x="498.74" y="384.65" font-size="6.5" text-anchor="middle" fill="#222" font-weight="normal" textLength="9.58" lengthAdjust="spacingAndGlyphs" stroke="#222" stroke-width="0.12">111</text>
<text x="329.20" y="394.35" font-size="6" text-anchor="end" fill="#566c94" font-weight="normal">Prior bendamustine</text>
<text x="343.70" y="394.35" font-size="6.5" text-anchor="middle" fill="#222" font-weight="normal" textLength="10.52" lengthAdjust="spacingAndGlyphs" stroke="#222" stroke-width="0.12">250</text>
<text x="382.46" y="394.35" font-size="6.5" text-anchor="middle" fill="#222" font-weight="normal" textLength="10.52" lengthAdjust="spacingAndGlyphs" stroke="#222" stroke-width="0.12">209</text>
<text x="421.22" y="394.35" font-size="6.5" text-anchor="middle" fill="#222" font-weight="normal" textLength="10.52" lengthAdjust="spacingAndGlyphs" stroke="#222" stroke-width="0.12">179</text>
<text x="459.98" y="394.35" font-size="6.5" text-anchor="middle" fill="#222" font-weight="normal" textLength="10.52" lengthAdjust="spacingAndGlyphs" stroke="#222" stroke-width="0.12">151</text>
<text x="498.74" y="394.35" font-size="6.5" text-anchor="middle" fill="#222" font-weight="normal" textLength="10.52" lengthAdjust="spacingAndGlyphs" stroke="#222" stroke-width="0.12">125</text>
<line x1="278.75" y1="407.70" x2="292.50" y2="407.70" stroke="#4fb068" stroke-width="1.1"/>
<text x="295.75" y="409.85" font-size="6" text-anchor="start" fill="#222" font-weight="normal" stroke="#222" stroke-width="0.12">No prior bendamustine (relapse/PD)</text>
<line x1="278.75" y1="417.60" x2="292.50" y2="417.60" stroke="#4fb068" stroke-width="1.1" stroke-dasharray="2.6 1.15"/>
<text x="295.75" y="419.75" font-size="6" text-anchor="start" fill="#222" font-weight="normal" stroke="#222" stroke-width="0.12">No prior bendamustine (NRM)</text>
<line x1="400.20" y1="407.70" x2="414.50" y2="407.70" stroke="#30506f" stroke-width="1.1"/>
<text x="417.70" y="409.85" font-size="6" text-anchor="start" fill="#222" font-weight="normal" stroke="#222" stroke-width="0.12">Prior bendamustine (relapse/PD)</text>
<line x1="400.20" y1="417.60" x2="414.50" y2="417.60" stroke="#30506f" stroke-width="1.1" stroke-dasharray="2.6 1.15"/>
<text x="417.70" y="419.75" font-size="6" text-anchor="start" fill="#222" font-weight="normal" stroke="#222" stroke-width="0.12">Prior bendamustine (NRM)</text>
<text x="423.70" y="317.05" font-size="6.3" text-anchor="start" fill="#566c94" font-weight="normal">20%</text>
<text x="423.70" y="326.75" font-size="6.3" text-anchor="start" fill="#78c587" font-weight="normal">19%</text>
<text x="423.70" y="332.65" font-size="6.3" text-anchor="start" fill="#566c94" font-weight="normal">6%</text>
<text x="423.70" y="339.15" font-size="6.3" text-anchor="start" fill="#78c587" font-weight="normal">5%</text>
<text x="501.20" y="311.65" font-size="6.3" text-anchor="start" fill="#566c94" font-weight="normal">31%</text>
<text x="501.20" y="317.65" font-size="6.3" text-anchor="start" fill="#78c587" font-weight="normal">27%</text>
<text x="501.20" y="330.55" font-size="6.3" text-anchor="start" fill="#566c94" font-weight="normal">8%</text>
<text x="501.20" y="336.45" font-size="6.3" text-anchor="start" fill="#78c587" font-weight="normal">6%</text>
<rect x="0.5" y="0.5" width="519" height="427" fill="none" stroke="#545454" stroke-width="1"/>
</svg>
</body></html>
